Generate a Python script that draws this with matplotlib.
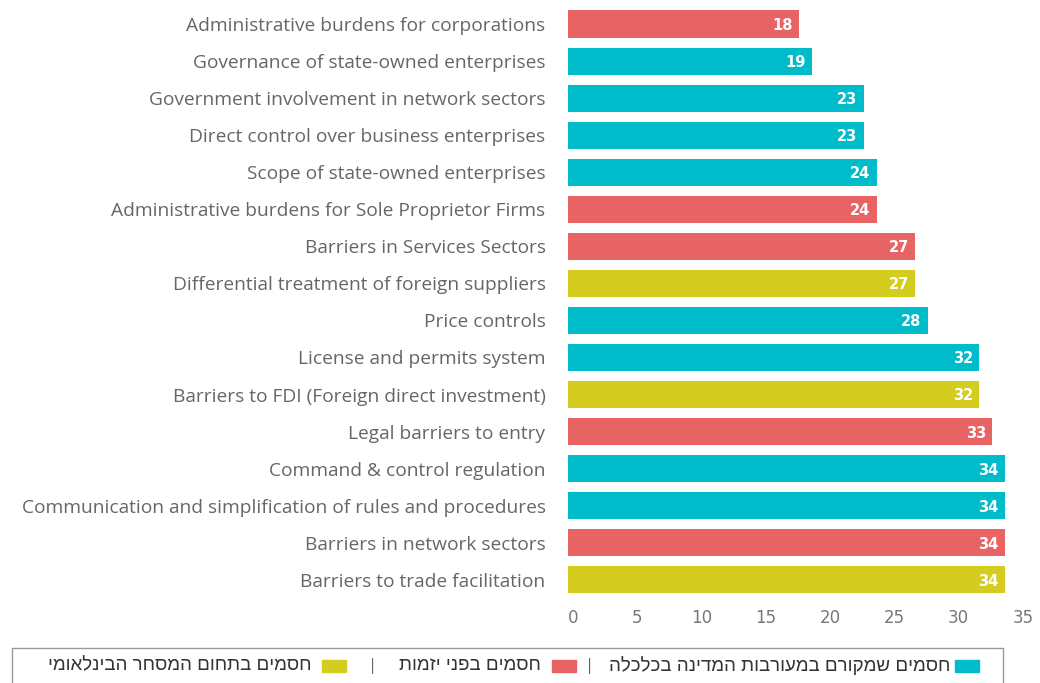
import matplotlib.pyplot as plt
import matplotlib.transforms as mtransforms
from matplotlib.patches import Rectangle

categories = [
    "Administrative burdens for corporations",
    "Governance of state-owned enterprises",
    "Government involvement in network sectors",
    "Direct control over business enterprises",
    "Scope of state-owned enterprises",
    "Administrative burdens for Sole Proprietor Firms",
    "Barriers in Services Sectors",
    "Differential treatment of foreign suppliers",
    "Price controls",
    "License and permits system",
    "Barriers to FDI (Foreign direct investment)",
    "Legal barriers to entry",
    "Command & control regulation",
    "Communication and simplification of rules and procedures",
    "Barriers in network sectors",
    "Barriers to trade facilitation",
]
values = [18, 19, 23, 23, 24, 24, 27, 27, 28, 32, 32, 33, 34, 34, 34, 34]
groups = ["ent", "state", "state", "state", "state", "ent", "ent", "trade",
          "state", "state", "trade", "ent", "state", "state", "ent", "trade"]

group_names = {
    "state": "חסמים שמקורם במעורבות המדינה בכלכלה",
    "ent": "חסמים בפני יזמות",
    "trade": "חסמים בתחום המסחר הבינלאומי",
}
colors = {"state": "#00BBC9", "ent": "#E86464", "trade": "#D4CD1F"}

plt.rcParams['font.family'] = ['Open Sans', 'DejaVu Sans']

fig = plt.figure(figsize=(10.4, 6.83), dpi=100)
ax = fig.add_axes([0.546, 0.124, 0.4415, 0.868])

ypos = list(range(len(categories)))
ax.barh(ypos, values, height=0.73, color=[colors[g] for g in groups])
for y, v in zip(ypos, values):
    ax.text(v - 0.5, y + 0.04, str(v), ha='right', va='center', color='white',
            fontsize=10.5, fontweight='bold', family=['DejaVu Sans'])

ax.set_ylim(len(categories) - 0.5, -0.5)
ax.set_xlim(0, 35.7)
ax.set_yticks(ypos)
ax.set_yticklabels(categories, fontsize=13.8, color='#666666')
ax.set_xticks(range(0, 36, 5))
ax.tick_params(axis='x', labelsize=12, labelcolor='#777777', length=0, pad=8)
ax.tick_params(axis='y', length=0, pad=16)
shift = mtransforms.ScaledTranslation(5 / 100, 0, fig.dpi_scale_trans)
for lbl in ax.get_xticklabels():
    lbl.set_transform(lbl.get_transform() + shift)
    lbl.set_family(['Liberation Sans Narrow', 'DejaVu Sans'])
for s in ax.spines.values():
    s.set_visible(False)

# legend box
W, H = 1040, 683
fig.patches.append(Rectangle((12 / W, -0.02), 991 / W, (683 - 648) / H + 0.02,
                             transform=fig.transFigure, fill=False,
                             edgecolor='#999999', linewidth=1))
ly = 1 - 666 / H
entries = [("state", 979, 950), ("ent", 576, 541), ("trade", 346, 311)]
for g, xr, xt in entries:
    fig.patches.append(Rectangle(((xr - 24) / W, ly - 6 / H), 24 / W, 12 / H,
                                 transform=fig.transFigure, color=colors[g]))
    fig.text(xt / W, ly, group_names[g][::-1], ha='right', va='center',
             fontsize=13.5, color='#333333',
             family=['Liberation Sans', 'DejaVu Sans'])
for xs in [590, 373]:
    fig.text(xs / W, ly, "|", ha='center', va='center', fontsize=12,
             color='#666666')

fig.savefig("out.png", dpi=100)
